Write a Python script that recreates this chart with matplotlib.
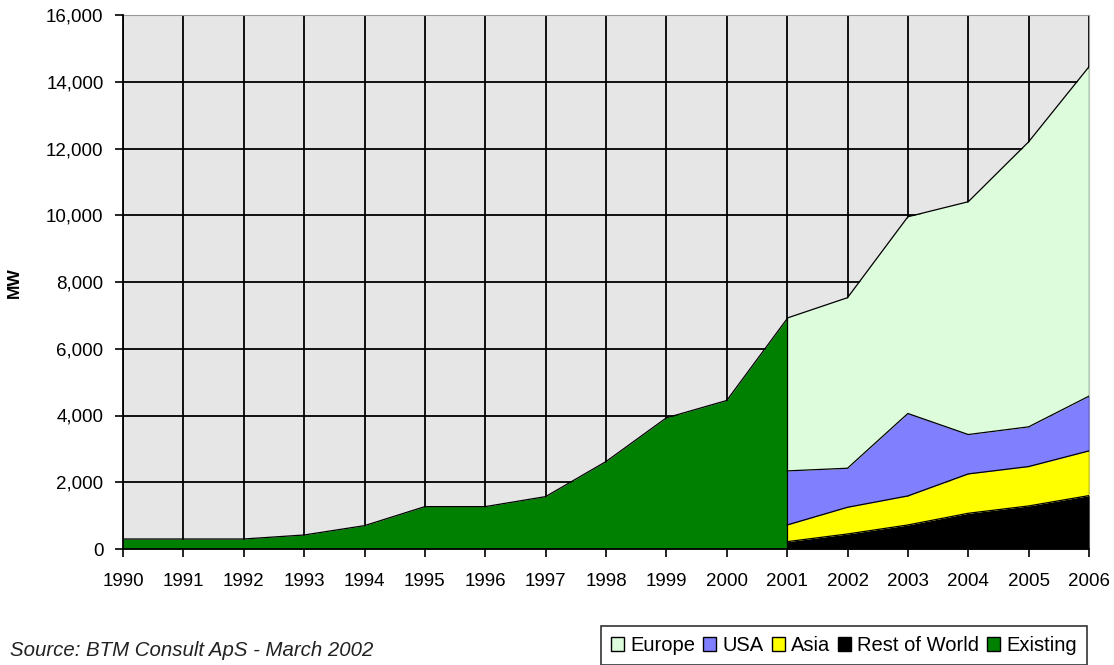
import matplotlib
matplotlib.use("Agg")
import matplotlib.pyplot as plt
from matplotlib.patches import Patch
import numpy as np

plt.rcParams['font.family'] = ['Liberation Sans', 'DejaVu Sans']

hist_years = [1990, 1991, 1992, 1993, 1994, 1995, 1996, 1997, 1998, 1999, 2000, 2001]
existing = [300, 300, 300, 420, 700, 1270, 1270, 1570, 2620, 3930, 4450, 6900]

fc_years = [2001, 2002, 2003, 2004, 2005, 2006]
rest_of_world = [220, 450, 720, 1070, 1290, 1600]
asia = [500, 800, 870, 1180, 1180, 1340]
usa = [1620, 1170, 2470, 1180, 1190, 1640]
europe = [4580, 5110, 5895, 6975, 8540, 9870]

year_ticks = list(range(1990, 2007))
y_ticks = list(range(0, 16001, 2000))

c_europe = '#DCFCDC'
c_usa = '#8080FF'
c_asia = '#FFFF00'
c_row = '#000000'
c_exist = '#008000'

fig = plt.figure(figsize=(11.14, 6.65), dpi=100)
ax = fig.add_axes([123/1114, 116/665, (1089-123)/1114, (549-15)/665])
ax.set_facecolor('#E6E6E6')

ax.set_xlim(1990, 2006)
ax.set_ylim(0, 16000)
ax.set_xticks(year_ticks)
ax.set_yticks(y_ticks)
ax.set_yticklabels([f"{v:,}" for v in y_ticks])
ax.grid(True, color='black', linewidth=1.3)
ax.set_axisbelow(True)

# Existing
ax.fill_between(hist_years, 0, existing, color=c_exist, linewidth=0, zorder=3)
ax.plot(hist_years, existing, color='black', linewidth=0.9, zorder=4)

# Forecast stack
fy = np.array(fc_years)
s1 = np.array(rest_of_world)
s2 = s1 + np.array(asia)
s3 = s2 + np.array(usa)
s4 = s3 + np.array(europe)
ax.fill_between(fy, 0, s1, color=c_row, linewidth=0, zorder=3)
ax.fill_between(fy, s1, s2, color=c_asia, linewidth=0, zorder=3)
ax.fill_between(fy, s2, s3, color=c_usa, linewidth=0, zorder=3)
ax.fill_between(fy, s3, s4, color=c_europe, linewidth=0, zorder=3)
for s in (s1, s2, s3, s4):
    ax.plot(fy, s, color='black', linewidth=0.9, zorder=4)
ax.plot([2001, 2001], [0, s4[0]], color='black', linewidth=0.9, zorder=4)
ax.plot([2006, 2006], [0, s4[-1]], color='black', linewidth=0.9, zorder=4)

for sp in ('top', 'right'):
    ax.spines[sp].set_color('#999999')
for sp in ('left', 'bottom'):
    ax.spines[sp].set_color('black')
    ax.spines[sp].set_linewidth(1.3)
    ax.spines[sp].set_zorder(5)

ax.tick_params(axis='both', labelsize=13.5, direction='out', length=6, width=1.2, color='black')
ax.tick_params(axis='x', pad=11)
ax.tick_params(axis='y', pad=8)
ax.set_ylabel('MW', fontsize=12.5, fontweight='bold')
ax.yaxis.set_label_coords((22 - 123) / 966, 0.498)

fig.text(10/1114, 1 - 650/665, 'Source: BTM Consult ApS - March 2002', fontsize=14.7,
         style='italic', va='center', ha='left', color='#222222')

handles = [Patch(facecolor=c, edgecolor='black', linewidth=1.0) for c in
           (c_europe, c_usa, c_asia, c_row, c_exist)]
labels = ['Europe', 'USA', 'Asia', 'Rest of World', 'Existing']
leg = fig.legend(handles, labels, loc='lower right', bbox_to_anchor=(1087/1114, 0.0),
                 ncol=5, fontsize=14.5, frameon=True, fancybox=False,
                 handlelength=0.65, handleheight=0.65, handletextpad=0.3,
                 columnspacing=0.4, borderpad=0.5, borderaxespad=0.0)
leg.get_frame().set_edgecolor('black')
leg.get_frame().set_linewidth(1.2)

fig.savefig('out.png', dpi=100)
